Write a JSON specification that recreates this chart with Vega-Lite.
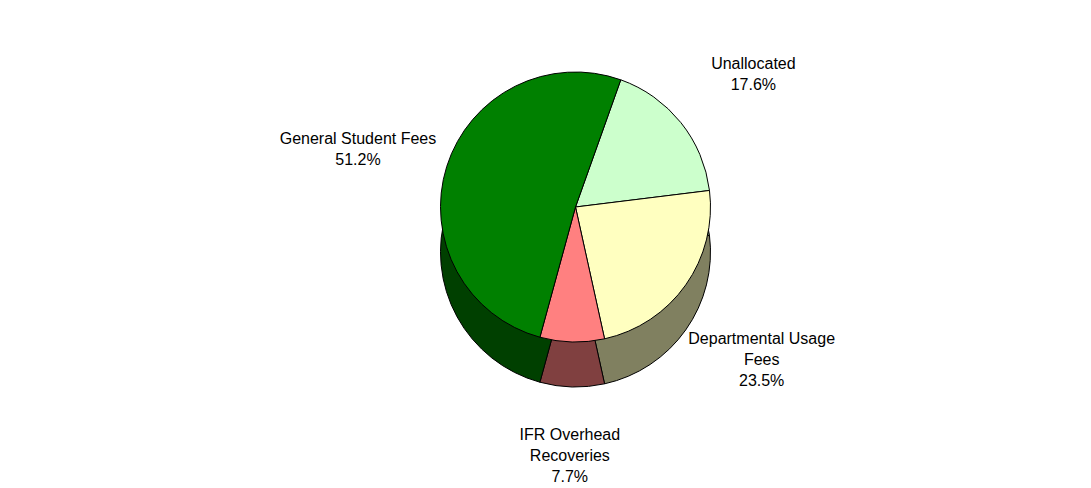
{
  "$schema": "https://vega.github.io/schema/vega-lite/v6.json",
  "width": 1091,
  "height": 488,
  "autosize": {"type": "fit", "contains": "padding"},
  "padding": {"left": 60, "top": 25, "right": 0, "bottom": 65},
  "background": "white",
  "view": {"stroke": null},
  "data": {
    "values": [
      {"seq": 1, "cat": "Unallocated", "value": 17.6, "label": ["Unallocated", "17.6%"]},
      {"seq": 2, "cat": "Departmental Usage Fees", "value": 23.5, "label": ["Departmental Usage", "Fees", "23.5%"]},
      {"seq": 3, "cat": "IFR Overhead Recoveries", "value": 7.7, "label": ["IFR Overhead", "Recoveries", "7.7%"]},
      {"seq": 4, "cat": "General Student Fees", "value": 51.2, "label": ["General Student Fees", "51.2%"]}
    ]
  },
  "layer": [
    {
      "mark": {"type": "arc", "radius": 135, "yOffset": 45, "stroke": "black", "strokeWidth": 1},
      "encoding": {
        "theta": {"field": "value", "type": "quantitative", "stack": true, "scale": {"range": [0.3421, 6.6253]}},
        "order": {"field": "seq", "type": "quantitative"},
        "color": {
          "field": "cat", "type": "nominal", "legend": null,
          "sort": ["Unallocated", "Departmental Usage Fees", "IFR Overhead Recoveries", "General Student Fees"],
          "scale": {"range": ["#668066", "#808060", "#804040", "#004000"]}
        }
      }
    },
    {
      "mark": {"type": "arc", "radius": 135, "stroke": "black", "strokeWidth": 1},
      "encoding": {
        "theta": {"field": "value", "type": "quantitative", "stack": true, "scale": {"range": [0.3421, 6.6253]}},
        "order": {"field": "seq", "type": "quantitative"},
        "fill": {
          "field": "cat", "type": "nominal", "legend": null,
          "sort": ["Unallocated", "Departmental Usage Fees", "IFR Overhead Recoveries", "General Student Fees"],
          "scale": {"range": ["#CCFFCC", "#FFFFC0", "#FF8080", "#008000"]}
        }
      }
    },
    {
      "mark": {"type": "text", "radius": 228, "font": "Liberation Sans", "fontSize": 16, "lineHeight": 21, "align": "center", "baseline": "middle", "color": "black"},
      "encoding": {
        "theta": {"field": "value", "type": "quantitative", "stack": true, "scale": {"range": [0.3421, 6.6253]}},
        "order": {"field": "seq", "type": "quantitative"},
        "detail": {"field": "cat", "type": "nominal"},
        "text": {"field": "label"}
      }
    }
  ],
  "resolve": {"scale": {"color": "independent", "fill": "independent"}}
}
